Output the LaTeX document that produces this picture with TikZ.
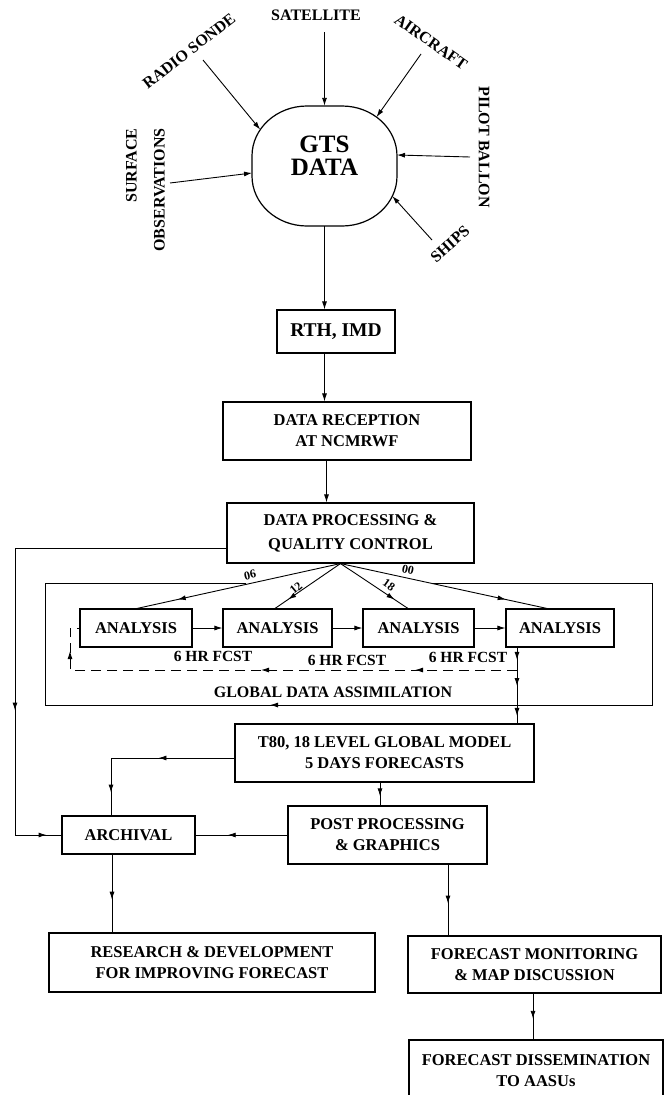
\documentclass[tikz,border=0pt]{standalone}
\usepackage{fontspec}
\setmainfont{Liberation Serif}
\usetikzlibrary{arrows.meta,decorations.markings}
\tikzset{
  >={Latex[length=8pt,width=5pt]},
  ln/.style={line width=0.9pt},
  box/.style={draw, line width=1.1pt, inner sep=0pt, align=center, font=\bfseries\fontsize{16.5}{21}\selectfont},
  lbl/.style={inner sep=0pt, align=center, font=\bfseries\fontsize{16}{19}\selectfont},
  num/.style={inner sep=0pt, font=\bfseries\fontsize{12}{14}\selectfont},
  fcst/.style={inner sep=0pt, font=\bfseries\fontsize{15.5}{18}\selectfont},
  marr/.style={postaction={decorate}, decoration={markings, mark=at position #1 with {\arrow[solid]{>}}}},
}
\begin{document}
\begin{tikzpicture}[x=1pt,y=-1pt]
\useasboundingbox (0,0) rectangle (665,1095);

% ---------- GTS DATA ----------
\node[minimum width=145pt, minimum height=120pt, inner sep=0pt] (gts) at (324.5,166) {};
\draw[line width=1.2pt] (307,106) -- (342,106) .. controls (372.4,106) and (397,128.4) .. (397,156) -- (397,176) .. controls (397,203.6) and (372.4,226) .. (342,226) -- (307,226) .. controls (276.6,226) and (252,203.6) .. (252,176) -- (252,156) .. controls (252,128.4) and (276.6,106) .. (307,106) -- cycle;
\node[inner sep=0pt, align=center, font=\bfseries\fontsize{25}{23.5}\selectfont] (gtstxt) at (324.5,155.5) {GTS\\DATA};

% sources
\node[lbl] (sat) at (316,15) {SATELLITE};
\node[lbl, rotate=38] (radio) at (189,51) {RADIO SONDE};
\node[lbl, rotate=-35] (air) at (431,42) {AIRCRAFT};
\node[lbl, rotate=-90] (pilot) at (484,147) {PILOT BALLON};
\node[lbl, rotate=42] (ships) at (450,244) {SHIPS};
\node[inner sep=0pt, align=right, rotate=90, font=\bfseries\fontsize{16}{28}\selectfont] (surf) at (145.5,190) {SURFACE\\OBSERVATIONS};

\coordinate (satT) at (324.5,32);
\coordinate (radT) at (203,60);   \coordinate (radH) at (260.2,129.6);
\coordinate (airT) at (421,54);   \coordinate (airH) at (376.5,117.1);
\coordinate (pilT) at (470,157);  \coordinate (pilH) at (397,155);
\coordinate (shpT) at (432,240);  \coordinate (shpH) at (392.3,196.1);
\coordinate (surT) at (170,183);  \coordinate (surH) at (252,173);

\draw[->,ln] (satT) -- (gts.north);
\draw[->,ln] (radT) -- (radH);
\draw[->,ln] (airT) -- (airH);
\draw[->,ln] (pilT) -- (pilH);
\draw[->,ln] (shpT) -- (shpH);
\draw[->,ln] (surT) -- (surH);

% ---------- main boxes ----------
\node[box, minimum width=118pt, minimum height=43pt, font=\bfseries\fontsize{19.5}{22}\selectfont] (rth) at (336,331.5) {RTH, IMD};
\node[box, minimum width=248pt, minimum height=58pt] (dr) at (347,431) {DATA RECEPTION\\AT NCMRWF};
\node[box, minimum width=247pt, minimum height=60pt, font=\bfseries\fontsize{16.5}{24}\selectfont] (dp) at (350.5,533) {DATA PROCESSING \&\\QUALITY CONTROL};

\node[box, minimum width=112pt, minimum height=38pt] (a1) at (136,628) {ANALYSIS};
\node[box, minimum width=109pt, minimum height=38pt] (a2) at (277.5,628) {ANALYSIS};
\node[box, minimum width=111pt, minimum height=38pt] (a3) at (418.5,628) {ANALYSIS};
\node[box, minimum width=108pt, minimum height=38pt] (a4) at (560,628) {ANALYSIS};

\node[box, minimum width=299pt, minimum height=58pt] (t80) at (384.5,753) {T80, 18 LEVEL GLOBAL MODEL\\5 DAYS FORECASTS};
\node[box, minimum width=199pt, minimum height=58pt] (post) at (387.5,835) {POST PROCESSING\\\& GRAPHICS};
\node[box, minimum width=133pt, minimum height=38pt] (arch) at (128.5,835) {ARCHIVAL};
\node[box, minimum width=326pt, minimum height=59pt] (rd) at (212,962.5) {RESEARCH \& DEVELOPMENT\\FOR IMPROVING FORECAST};
\node[box, minimum width=253pt, minimum height=57pt] (fm) at (534.5,964.5) {FORECAST MONITORING\\\& MAP DISCUSSION};
\node[box, minimum width=254pt, minimum height=62pt, text depth=0pt] (fd) at (536,1071) {FORECAST DISSEMINATION\\TO AASUs};

% ---------- vertical chain ----------
\draw[->,ln] (gts.south) -- (gts.south |- rth.north);
\draw[->,ln] (rth.south -| gts.south) -- (dr.north -| gts.south);
\draw[->,ln] ([xshift=2pt]dr.south -| gts.south) -- ([xshift=2pt]dp.north -| gts.south);

% ---------- assimilation ----------
\coordinate (conv) at ([xshift=-10pt]dp.south);
\draw[ln, marr=0.8] (conv) -- ([xshift=1pt]a1.north);
\draw[ln, marr=0.8] (conv) -- ([xshift=-2.5pt]a2.north);
\draw[ln, marr=0.8] (conv) -- ([xshift=-10.5pt]a3.north);
\draw[ln, marr=0.8] (conv) -- ([xshift=-13pt]a4.north);

\node[num, rotate=13] (l06) at (250,575) {06};
\node[num, rotate=40] (l12) at (296,588) {12};
\node[num, rotate=-35] (l18) at (389,585) {18};
\node[num, rotate=-12] (l00) at (408,570) {00};

\draw[->,ln] (a1) -- (a2);
\draw[->,ln] (a2) -- (a3);
\draw[->,ln] (a3) -- (a4);

% frame of global data assimilation
\coordinate (gA) at (432,583);
\coordinate (gB) at (652,583);
\coordinate (gC) at (652,705);
\coordinate (gD) at (45,705);
\coordinate (gE) at (45,583);
\coordinate (gF) at (246,583);
\draw[ln, marr=724pt] (gA) -- (gB) -- (gC) -- (gD) -- (gE) -- (gF);
\node[lbl] (gdal) at (333,692) {GLOBAL DATA ASSIMILATION};

% analysis 4 down to T80 with feedback
\coordinate (a4b) at ([xshift=-43pt]a4.south);
\coordinate (y670) at (0,670);
\coordinate (dj) at (a4b |- y670);
\draw[ln, marr=0.55] (a4b) -- (dj);
\draw[ln, postaction={decorate}, decoration={markings,
   mark=at position 0.3 with {\arrow{>}},
   mark=at position 0.86 with {\arrow{>}}}] (dj) -- (dj |- t80.north);

\coordinate (fbL) at (70,670);
\coordinate (fbT) at (70,628);
\draw[ln, dash pattern=on 10pt off 6pt, postaction={decorate}, decoration={markings,
   mark=at position 102pt with {\arrow[solid]{>}},
   mark=at position 256pt with {\arrow[solid]{>}},
   mark=at position 466pt with {\arrow[solid]{>}}}] (dj) -- (fbL) -- (fbT) -- (a1.west);

\node[fcst] (f1) at (213,656) {6 HR FCST};
\node[fcst] (f2) at (347,660) {6 HR FCST};
\node[fcst] (f3) at (468,657) {6 HR FCST};

% ---------- left loop to archival ----------
\coordinate (dpl) at ([yshift=-15pt]dp.west);
\coordinate (lpT) at (15,548);
\coordinate (lpB) at (15,835);
\draw[ln, postaction={decorate}, decoration={markings,
   mark=at position 374pt with {\arrow{>}},
   mark=at position 530pt with {\arrow{>}}}] (dpl) -- (lpT) -- (lpB) -- (arch.west);

% T80 -> archival
\coordinate (t80l) at ([yshift=-5pt]t80.west);
\coordinate (c111) at (111,758);
\draw[ln, postaction={decorate}, decoration={markings,
   mark=at position 76pt with {\arrow{>}},
   mark=at position 158pt with {\arrow{>}}}] (t80l) -- (c111) -- (arch.north -| c111);

% T80 -> post
\coordinate (c380) at (380,0);
\draw[ln, marr=0.6] (t80.south -| c380) -- (post.north -| c380);
% post -> archival
\draw[ln, marr=0.65] (post.west) -- (arch.east);
% archival -> R&D
\coordinate (c112) at (112,0);
\draw[ln, marr=0.58] (arch.south -| c112) -- (rd.north -| c112);
% post -> FM
\coordinate (c448) at (448,0);
\draw[ln, marr=0.55] (post.south -| c448) -- (fm.north -| c448);
% FM -> FD
\coordinate (c533) at (533,0);
\draw[ln, marr=0.55] (fm.south -| c533) -- (fd.north -| c533);
\end{tikzpicture}
\end{document}
